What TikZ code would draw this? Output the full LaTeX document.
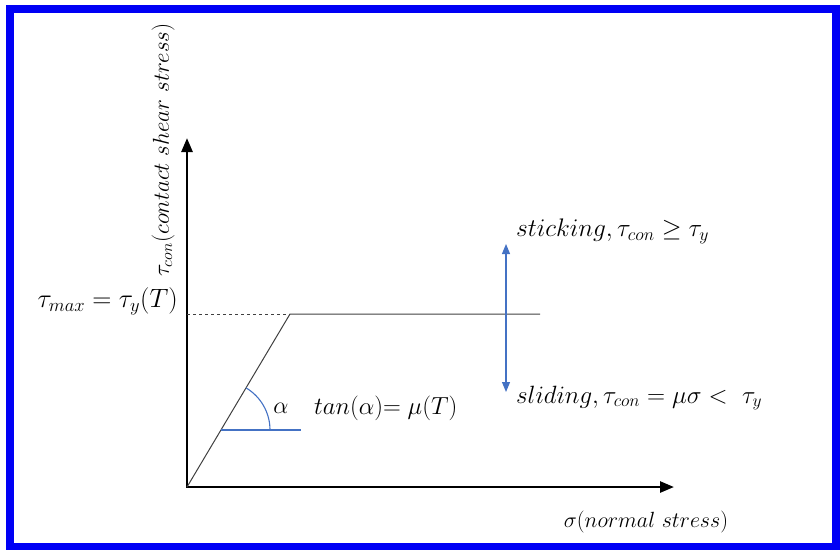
\RequirePackage{fix-cm}
\documentclass[tikz,border=0pt]{standalone}
\usepackage{amsmath}
\usetikzlibrary{arrows.meta}
\definecolor{frameblue}{RGB}{0,0,245}
\definecolor{officeblue}{RGB}{68,114,196}
\tikzset{
  axis/.style={line width=2.6pt,{Triangle[length=14pt,width=11pt]}-{Triangle[length=14pt,width=11pt]}},
  law/.style={draw=black!75,line width=1pt},
  angleline/.style={draw=officeblue,line width=1.1pt},
  regime/.style={draw=officeblue,line width=1.1pt,{Triangle[length=10pt,width=8pt]}-{Triangle[length=10pt,width=8pt]}},
  lbl/.style={inner sep=0pt},
  fs/.style={font=\fontsize{#1}{#1}\selectfont}
}
\begin{document}
\begin{tikzpicture}[x=1pt,y=-1pt]
\useasboundingbox (0,0) rectangle (840,549);
\draw[frameblue,line width=8pt] (10,9) rectangle (836,547);
% axes
\coordinate (O) at (187,487);
\coordinate (ytip) at (187,138);
\coordinate (xtip) at (674,487);
\draw[axis] (ytip) -- (O) -- (xtip);
% friction law
\coordinate (Y) at (187,314);
\coordinate (K) at (290,314);
\coordinate (E) at (540,314);
\draw[law,dashed] (Y) -- (K);
\draw[law] (O) -- (K) -- (E);
% slope angle
\coordinate (A) at (221,430);
\coordinate (B) at (301,430);
\draw[angleline] (A) -- (B);
\draw[angleline] ([shift={(49,0)}]A) arc[start angle=0,end angle=-59.2,radius=49];
% regimes
\coordinate (up) at (506,244);
\coordinate (down) at (506,392);
\draw[regime] (down) -- (up);
\node[lbl,fs=25.4,anchor=west] (stick) at (516,231) {$sticking,\tau_{con}\geq\tau_y$};
\node[lbl,fs=25,anchor=west] (slide) at (516,398) {$sliding,\tau_{con}=\mu\sigma<\ \tau_y$};
\node[lbl,fs=26.5,anchor=east] (tmax) at (178,301) {$\tau_{max}=\tau_y(T)$};
\node[lbl,fs=24] (alpha) at (281,408) {$\alpha$};
\node[lbl,fs=24.7,anchor=west] (tan) at (314,408) {$tan(\alpha){=}\;\mu(T)$};
\node[lbl,fs=23,rotate=90] (ylab) at (163,150) {$\tau_{con}(contact\ shear\ stress)$};
\node[lbl,fs=22,anchor=center] (xlab) at (646,522) {$\sigma(normal\ stress)$};
\end{tikzpicture}
\end{document}
